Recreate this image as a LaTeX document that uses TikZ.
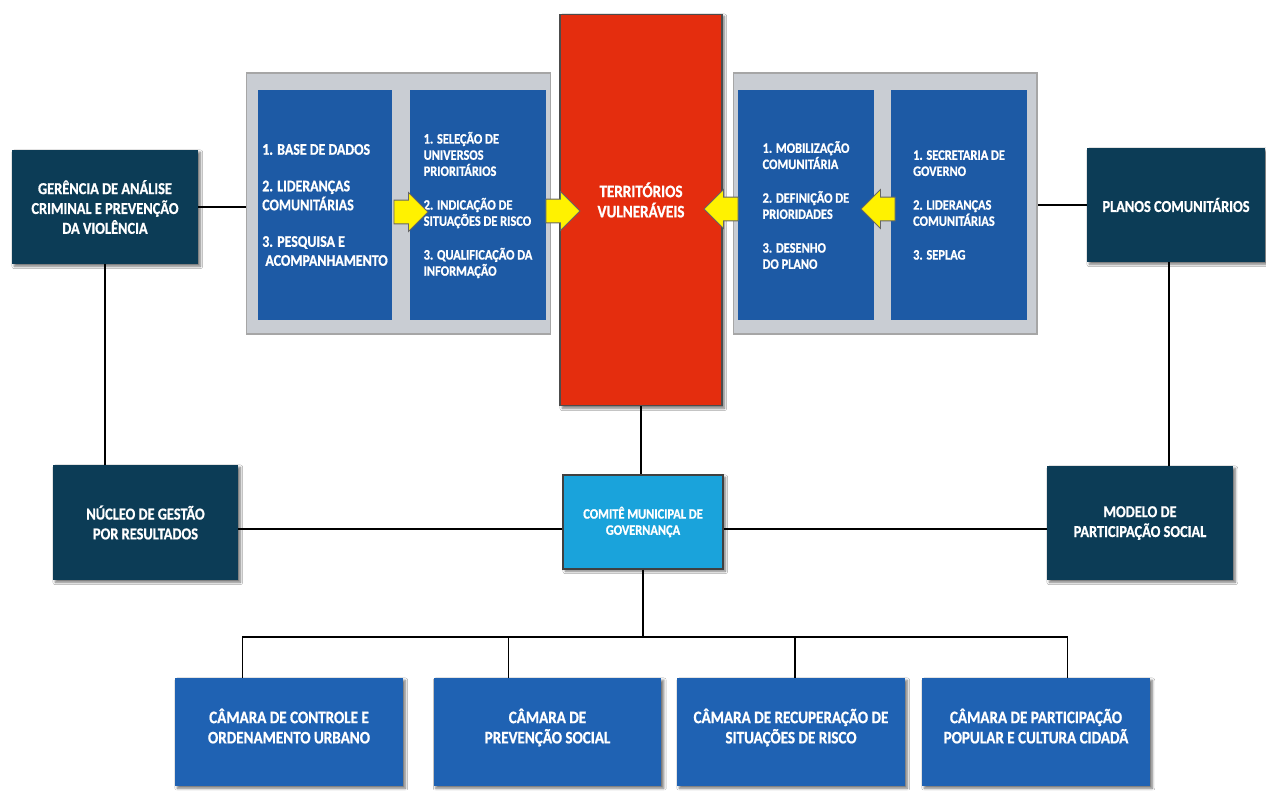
\documentclass[tikz,border=0pt]{standalone}
\usepackage{fontspec}
\setmainfont{Carlito}[FakeStretch=0.86, BoldFeatures={FakeBold=0.8}]
\usepackage{tikz}
\usetikzlibrary{shapes.arrows,shadows.blur,positioning,calc}
\definecolor{cNavy}{HTML}{0C3C56}
\definecolor{cBlue}{HTML}{1F62B3}
\definecolor{cPanel}{HTML}{C9CDD3}
\definecolor{cRed}{HTML}{E42D0E}
\definecolor{cCyan}{HTML}{1AA3DB}
\definecolor{cYel}{HTML}{FFF200}
\newcommand{\fbig}{\fontsize{9.5}{11.3}\selectfont\bfseries}
\newcommand{\fcam}{\fontsize{10}{11.5}\selectfont\bfseries}
\newcommand{\fmid}{\fontsize{9.2}{10.8}\selectfont\bfseries}
\newcommand{\fsml}{\fontsize{8.2}{9.2}\selectfont\bfseries}
\tikzset{
  shd/.style   = {blur shadow={shadow xshift=1.3pt, shadow yshift=-1.3pt,
                  shadow blur radius=1.4pt, shadow opacity=55}},
  dk/.style    = {rectangle, fill=cNavy, text=white, align=center, font=\fbig,
                  minimum width=3.72cm, minimum height=2.28cm, shd},
  cam/.style   = {rectangle, fill=cBlue, text=white, align=center, font=\fcam,
                  minimum width=4.56cm, minimum height=2.16cm, shd},
  pan/.style   = {rectangle, fill=cPanel, draw=black!35, line width=0.6pt,
                  minimum width=6.08cm, minimum height=5.22cm},
  col/.style   = {rectangle, fill=cBlue!92!black, text=white, align=left, font=\fsml,
                  inner xsep=1pt, minimum width=2.72cm, minimum height=4.6cm},
  yarr/.style  = {single arrow, fill=cYel, draw=black!60, line width=0.5pt,
                  minimum height=0.68cm, inner xsep=0pt, inner ysep=0.23cm,
                  single arrow head extend=0.15cm},
  ln/.style    = {draw=black, line width=0.7pt},
}
\begin{document}
\begin{tikzpicture}[x=0.02cm, y=-0.02cm]
  \useasboundingbox[fill=white] (0,0) rectangle (1266,790);

  % grey panels and columns
  \node[pan] (panL) at (398.5,203.5) {};
  \node[pan] (panR) at (885,203.5) {};
  \node[col, font=\fmid, minimum width=2.68cm] (colL1) at (325,205)
    {1. BASE DE DADOS\\[10pt]2. LIDERANÇAS\\COMUNITÁRIAS\\[10pt]3. PESQUISA E\\\ ACOMPANHAMENTO};
  \node[col] (colL2) at (478,205)
    {1. SELEÇÃO DE\\UNIVERSOS\\PRIORITÁRIOS\\[10pt]2. INDICAÇÃO DE\\SITUAÇÕES DE RISCO\\[10pt]3. QUALIFICAÇÃO DA\\INFORMAÇÃO};
  \node[col] (colR1) at (806,205)
    {1. MOBILIZAÇÃO\\COMUNITÁRIA\\[10pt]2. DEFINIÇÃO DE\\PRIORIDADES\\[10pt]3. DESENHO\\DO PLANO};
  \node[col] (colR2) at (959,205)
    {1. SECRETARIA DE\\GOVERNO\\[10pt]2. LIDERANÇAS\\COMUNITÁRIAS\\[10pt]3. SEPLAG};

  \node[rectangle, fill=cRed, draw=black!70, line width=0.6pt, text=white, align=center,
        font=\fcam, minimum width=3.24cm, minimum height=7.84cm, shd] (ter) at (641,210)
    {TERRITÓRIOS\\VULNERÁVEIS\\[0pt]};

  \node[yarr] (arL1) at (405,212) {};
  \node[yarr] (arL2) at (557,211) {};
  \node[yarr, shape border rotate=180] (arR1) at (727,209) {};
  \node[yarr, shape border rotate=180] (arR2) at (884,209) {};

  % side boxes
  \node[dk] (ger) at (105,207) {GERÊNCIA DE ANÁLISE\\CRIMINAL E PREVENÇÃO\\DA VIOLÊNCIA};
  \node[dk, minimum width=3.56cm] (pla) at (1176,205) {PLANOS COMUNITÁRIOS};
  \node[dk, minimum width=3.70cm, minimum height=2.30cm] (nuc) at (145.5,522.5)
    {NÚCLEO DE GESTÃO\\POR RESULTADOS};
  \node[dk] (mod) at (1140,523) {MODELO DE\\PARTICIPAÇÃO SOCIAL};
  \node[rectangle, fill=cCyan, draw=black!75, line width=0.6pt, text=white, align=center,
        font=\fsml, minimum width=3.2cm, minimum height=1.88cm, shd] (com) at (643,522)
    {COMITÊ MUNICIPAL DE\\GOVERNANÇA};

  % camaras
  \node[cam] (cam1) at (289,732) {CÂMARA DE CONTROLE E\\ORDENAMENTO URBANO\\[-4.7pt]};
  \node[cam] (cam2) at (547.5,732) {CÂMARA DE\\PREVENÇÃO SOCIAL\\[-4.7pt]};
  \node[cam] (cam3) at (791,732) {CÂMARA DE RECUPERAÇÃO DE\\SITUAÇÕES DE RISCO\\[-4.7pt]};
  \node[cam] (cam4) at (1036,732) {CÂMARA DE PARTICIPAÇÃO\\POPULAR E CULTURA CIDADÃ\\[-4.7pt]};

  % connectors
  \draw[ln] (ger.east) -- (ger.east -| panL.west);
  \draw[ln] (pla.west) -- (pla.west -| panR.east);
  \draw[ln] (ger.south) -- (ger.south |- nuc.north);
  \draw[ln] ([xshift=-4pt]pla.south) -- ([xshift=-4pt]pla.south |- mod.north);
  \draw[ln] (ter.south) -- (ter.south |- com.north);
  \draw[ln] ([yshift=-4pt]com.west) -- ([yshift=-4pt]com.west -| nuc.east);
  \draw[ln] ([yshift=-4pt]com.east) -- ([yshift=-4pt]com.east -| mod.west);
  \coordinate (bus) at (640,637);
  \draw[ln] (com.south) -- (com.south |- bus);
  \draw[ln] ([xshift=-26.6pt]cam1.north |- bus) -- ([xshift=18pt]cam4.north |- bus);
  \foreach \c/\d in {cam1/-26.6pt, cam2/-22.4pt, cam3/2.3pt, cam4/18pt}
    \draw[ln] ([xshift=\d]\c.north |- bus) -- ([xshift=\d]\c.north);
\end{tikzpicture}
\end{document}
